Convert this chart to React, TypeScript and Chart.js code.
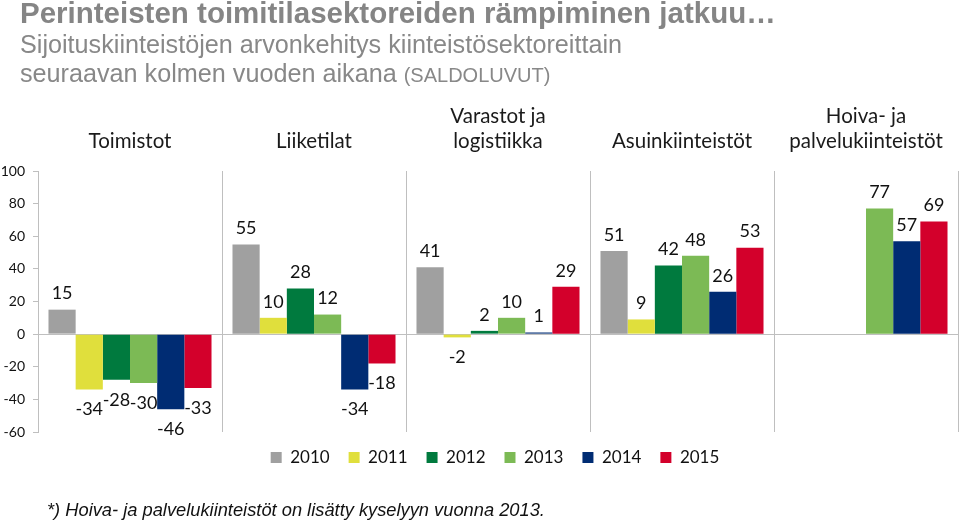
import React, { useEffect, useRef } from 'react';
import { Chart, registerables } from 'chart.js';
Chart.register(...registerables);

const categories: string[][] = [
  ['Toimistot'],
  ['Liiketilat'],
  ['Varastot ja', 'logistiikka'],
  ['Asuinkiinteistöt'],
  ['Hoiva- ja', 'palvelukiinteistöt'],
];
const years = ['2010', '2011', '2012', '2013', '2014', '2015'];
const s2010 = [15, 55, 41, 51, null];
const s2011 = [-34, 10, -2, 9, null];
const s2012 = [-28, 28, 2, 42, null];
const s2013 = [-30, 12, 10, 48, 77];
const s2014 = [-46, -34, 1, 26, 57];
const s2015 = [-33, -18, 29, 53, 69];
const seriesValues = [s2010, s2011, s2012, s2013, s2014, s2015];
const seriesColors = ['#a0a0a0', '#e0df3c', '#007a3e', '#7cba55', '#002c73', '#d3002b'];
const yMin = -60;
const yMax = 100;
const yStep = 20;

const LINE = '#bfbfbf';
const LABEL_FONT = 'Lato, "Open Sans", sans-serif';

const valueLabels = {
  id: 'valueLabels',
  afterDatasetsDraw(chart: any) {
    const ctx = chart.ctx;
    ctx.save();
    ctx.font = '18px ' + LABEL_FONT;
    ctx.fillStyle = '#111';
    ctx.textAlign = 'center';
    ctx.textBaseline = 'middle';
    chart.data.datasets.forEach((ds: any, i: number) => {
      const meta = chart.getDatasetMeta(i);
      meta.data.forEach((bar: any, j: number) => {
        const v = ds.data[j];
        if (v === null || v === undefined) return;
        const y = v >= 0 ? bar.y - 16 : bar.y + 20;
        ctx.fillText(String(v), bar.x, y);
      });
    });
    ctx.restore();
  },
};

const legendShift = {
  id: 'legendShift',
  afterLayout(chart: any) {
    const lg = chart.legend;
    if (!lg) return;
    lg.left += 16;
    lg.right += 16;
    lg.top -= 2;
    lg.bottom -= 2;
  },
};

export default function App() {
  const ref = useRef<HTMLCanvasElement>(null);
  useEffect(() => {
    if (!ref.current) return;
    const chart = new Chart(ref.current, {
      type: 'bar',
      data: {
        labels: categories as any,
        datasets: years.map((y, i) => ({
          label: y,
          data: seriesValues[i] as any,
          backgroundColor: seriesColors[i],
          borderWidth: 0,
          categoryPercentage: 0.886,
          barPercentage: 1,
        })),
      },
      options: {
        responsive: false,
        animation: false,
        devicePixelRatio: 1,
        layout: { padding: { top: 100, left: 0, right: 2, bottom: 45 } },
        plugins: {
          legend: {
            position: 'bottom',
            labels: {
              boxWidth: 11,
              boxHeight: 11,
              padding: 19,
              color: '#111',
              font: { family: LABEL_FONT, size: 17 },
            },
          },
          tooltip: { enabled: false },
        },
        scales: {
          x: {
            position: 'top',
            grid: { offset: true, color: LINE, drawTicks: false, lineWidth: 1 },
            border: { display: false },
            ticks: {
              color: '#1a1a1a',
              font: { family: LABEL_FONT, size: 20.5, lineHeight: 1.22 },
              padding: 17,
              maxRotation: 0,
              autoSkip: false,
            },
            afterFit(scale: any) {
              scale.height = 71;
            },
          },
          y: {
            min: yMin,
            max: yMax,
            ticks: {
              stepSize: yStep,
              color: '#111',
              font: { family: LABEL_FONT, size: 14 },
              padding: 8,
            },
            grid: {
              color: (c: any) => (c.tick && c.tick.value === 0 ? LINE : 'rgba(0,0,0,0)'),
              tickColor: LINE,
              tickLength: 5,
              lineWidth: 1,
            },
            border: { display: true, color: LINE, width: 1 },
            afterFit(scale: any) {
              scale.width = 38;
            },
          },
        },
      },
      plugins: [valueLabels, legendShift],
    });
    return () => chart.destroy();
  }, []);

  const gray = '#888888';
  const sans = '"Liberation Sans", Arial, sans-serif';
  return (
    <div style={{ position: 'absolute', left: 0, top: 0, width: 960, height: 523, background: '#fff', overflow: 'hidden' }}>
      <canvas ref={ref} width={960} height={523} style={{ position: 'absolute', left: 0, top: 0 }} />
      <div style={{ position: 'absolute', left: 20, top: -2, lineHeight: 1, fontFamily: sans, fontWeight: 'bold', fontSize: 29.5, color: '#858585', whiteSpace: 'nowrap' }}>
        Perinteisten toimitilasektoreiden rämpiminen jatkuu…
      </div>
      <div style={{ position: 'absolute', left: 20, top: 32, lineHeight: 1, fontFamily: sans, fontSize: 25.2, color: gray, whiteSpace: 'nowrap' }}>
        Sijoituskiinteistöjen arvonkehitys kiinteistösektoreittain
      </div>
      <div style={{ position: 'absolute', left: 20, top: 61, lineHeight: 1, fontFamily: sans, fontSize: 25.2, color: gray, whiteSpace: 'nowrap' }}>
        seuraavan kolmen vuoden aikana <span style={{ fontSize: 20 }}>(SALDOLUVUT)</span>
      </div>
      <div style={{ position: 'absolute', left: 47, top: 501, lineHeight: 1, fontFamily: sans, fontStyle: 'italic', fontSize: 18.3, color: '#111', whiteSpace: 'nowrap' }}>
        *) Hoiva- ja palvelukiinteistöt on lisätty kyselyyn vuonna 2013.
      </div>
    </div>
  );
}
